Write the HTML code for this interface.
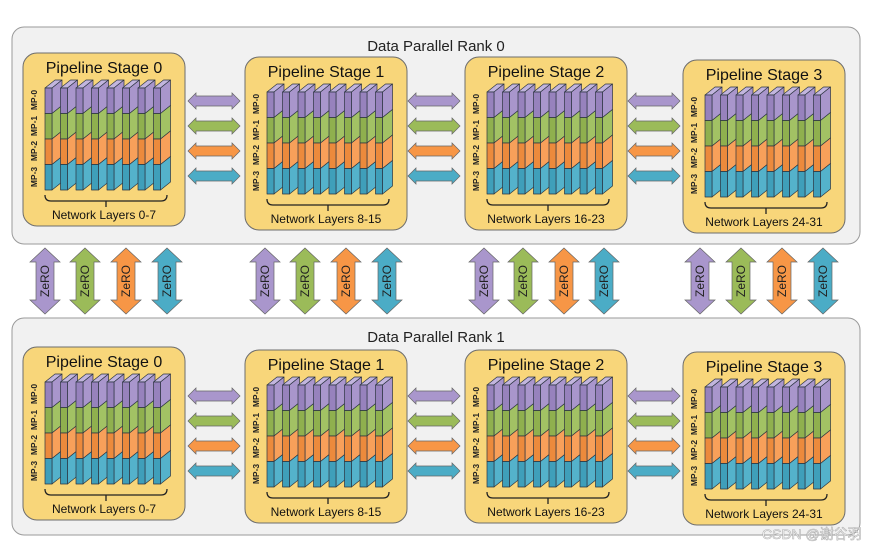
<!DOCTYPE html>
<html><head><meta charset="utf-8"><style>
html,body{margin:0;padding:0;background:#fff;}
svg{display:block;font-family:"Liberation Sans","DejaVu Sans",sans-serif;}
</style></head><body>
<svg width="880" height="547" viewBox="0 0 880 547" xmlns="http://www.w3.org/2000/svg">
<defs>
<g id="slab" stroke="#2b3440" stroke-width="0.7" stroke-linejoin="round">
  <polygon points="0,0 10,-8 17,-8 7,0" fill="#c2b5de"/>
  <polygon points="7,0 17,-8 17,17.5 7,25.5" fill="#a996cc"/>
  <rect x="0" y="0" width="7" height="25.5" fill="#9782bd"/>
  <polygon points="7,25.5 17,17.5 17,43 7,51" fill="#a2c264"/>
  <rect x="0" y="25.5" width="7" height="25.5" fill="#8fb04e"/>
  <polygon points="7,51 17,43 17,68.5 7,76.5" fill="#f8a05a"/>
  <rect x="0" y="51" width="7" height="25.5" fill="#ec8a3c"/>
  <polygon points="7,76.5 17,68.5 17,94 7,102" fill="#54b2cb"/>
  <rect x="0" y="76.5" width="7" height="25.5" fill="#3f9fba"/>
</g>
<g id="stage">
  <rect x="0" y="0" width="162" height="173" rx="14" fill="#f8d67a" stroke="#6d6d6d" stroke-width="1"/>
  <use href="#slab" x="22" y="35"/>
  <use href="#slab" x="37.5" y="35"/>
  <use href="#slab" x="53" y="35"/>
  <use href="#slab" x="68.5" y="35"/>
  <use href="#slab" x="84" y="35"/>
  <use href="#slab" x="99.5" y="35"/>
  <use href="#slab" x="115" y="35"/>
  <use href="#slab" x="130.5" y="35"/>
  <path d="M22,142 q0,6 6,6 L138,148 q6,0 6,-6 M83,148 L83,154" fill="none" stroke="#222" stroke-width="1.3"/>
  <g font-size="8.5" font-weight="bold" fill="#222" text-anchor="middle">
    <text transform="translate(14,47) rotate(-90)">MP-0</text>
    <text transform="translate(14,73) rotate(-90)">MP-1</text>
    <text transform="translate(14,98) rotate(-90)">MP-2</text>
    <text transform="translate(14,124) rotate(-90)">MP-3</text>
  </g>
</g>
<g id="harr" stroke="#666" stroke-width="0.7">
  <polygon points="0,0 8,-8 8,-5 44,-5 44,-8 52,0 44,8 44,5 8,5 8,8" fill="#a996cc"/>
  <polygon transform="translate(0,25)" points="0,0 8,-8 8,-5 44,-5 44,-8 52,0 44,8 44,5 8,5 8,8" fill="#9bbb59"/>
  <polygon transform="translate(0,50)" points="0,0 8,-8 8,-5 44,-5 44,-8 52,0 44,8 44,5 8,5 8,8" fill="#f79646"/>
  <polygon transform="translate(0,75)" points="0,0 8,-8 8,-5 44,-5 44,-8 52,0 44,8 44,5 8,5 8,8" fill="#4bacc6"/>
</g>
<polygon id="varr" points="0,0 15,14 9,14 9,52 15,52 0,66 -15,52 -9,52 -9,14 -15,14" stroke="#666" stroke-width="0.7"/>
</defs>

<rect x="12" y="27" width="848" height="217" rx="12" fill="#f1f1f1" stroke="#9a9a9a"/>
<rect x="12" y="318" width="848" height="217" rx="12" fill="#f1f1f1" stroke="#9a9a9a"/>
<text x="436" y="51" font-size="15" text-anchor="middle" fill="#222">Data Parallel Rank 0</text>
<text x="436" y="342" font-size="15" text-anchor="middle" fill="#222">Data Parallel Rank 1</text>

<use href="#stage" x="23" y="53"/>
<use href="#stage" x="245" y="57"/>
<use href="#stage" x="465" y="57"/>
<use href="#stage" x="683" y="60"/>
<use href="#stage" x="23" y="347"/>
<use href="#stage" x="245" y="350"/>
<use href="#stage" x="465" y="350"/>
<use href="#stage" x="683" y="352"/>

<g font-size="16" text-anchor="middle" fill="#111">
<text x="104" y="73">Pipeline Stage 0</text>
<text x="326" y="77">Pipeline Stage 1</text>
<text x="546" y="77">Pipeline Stage 2</text>
<text x="764" y="80">Pipeline Stage 3</text>
<text x="104" y="367">Pipeline Stage 0</text>
<text x="326" y="370">Pipeline Stage 1</text>
<text x="546" y="370">Pipeline Stage 2</text>
<text x="764" y="372">Pipeline Stage 3</text>
</g>
<g font-size="12" text-anchor="middle" fill="#111">
<text x="104" y="219">Network Layers 0-7</text>
<text x="326" y="223">Network Layers 8-15</text>
<text x="546" y="223">Network Layers 16-23</text>
<text x="764" y="226">Network Layers 24-31</text>
<text x="104" y="513">Network Layers 0-7</text>
<text x="326" y="516">Network Layers 8-15</text>
<text x="546" y="516">Network Layers 16-23</text>
<text x="764" y="518">Network Layers 24-31</text>
</g>

<use href="#harr" x="188" y="101"/>
<use href="#harr" x="408" y="101"/>
<use href="#harr" x="628" y="101"/>
<use href="#harr" x="188" y="396"/>
<use href="#harr" x="408" y="396"/>
<use href="#harr" x="628" y="396"/>

<g>
<use href="#varr" x="45" y="248" fill="#a996cc"/><use href="#varr" x="85" y="248" fill="#9bbb59"/><use href="#varr" x="126" y="248" fill="#f79646"/><use href="#varr" x="167" y="248" fill="#4bacc6"/>
<use href="#varr" x="265" y="248" fill="#a996cc"/><use href="#varr" x="305" y="248" fill="#9bbb59"/><use href="#varr" x="346" y="248" fill="#f79646"/><use href="#varr" x="387" y="248" fill="#4bacc6"/>
<use href="#varr" x="484" y="248" fill="#a996cc"/><use href="#varr" x="523" y="248" fill="#9bbb59"/><use href="#varr" x="564" y="248" fill="#f79646"/><use href="#varr" x="604" y="248" fill="#4bacc6"/>
<use href="#varr" x="700" y="248" fill="#a996cc"/><use href="#varr" x="741" y="248" fill="#9bbb59"/><use href="#varr" x="782" y="248" fill="#f79646"/><use href="#varr" x="823" y="248" fill="#4bacc6"/>
</g>
<g font-size="12" text-anchor="middle" fill="#222">
<text transform="translate(49,281) rotate(-90)">ZeRO</text><text transform="translate(89,281) rotate(-90)">ZeRO</text><text transform="translate(130,281) rotate(-90)">ZeRO</text><text transform="translate(171,281) rotate(-90)">ZeRO</text>
<text transform="translate(269,281) rotate(-90)">ZeRO</text><text transform="translate(309,281) rotate(-90)">ZeRO</text><text transform="translate(350,281) rotate(-90)">ZeRO</text><text transform="translate(391,281) rotate(-90)">ZeRO</text>
<text transform="translate(488,281) rotate(-90)">ZeRO</text><text transform="translate(527,281) rotate(-90)">ZeRO</text><text transform="translate(568,281) rotate(-90)">ZeRO</text><text transform="translate(608,281) rotate(-90)">ZeRO</text>
<text transform="translate(704,281) rotate(-90)">ZeRO</text><text transform="translate(745,281) rotate(-90)">ZeRO</text><text transform="translate(786,281) rotate(-90)">ZeRO</text><text transform="translate(827,281) rotate(-90)">ZeRO</text>
</g>
<text x="762" y="539" font-size="14" fill="#ffffff" stroke="#b0b0b0" stroke-width="0.6" font-family="Liberation Sans, Noto Sans CJK SC, sans-serif">CSDN @谢谷羽</text>
</svg>
</body></html>
